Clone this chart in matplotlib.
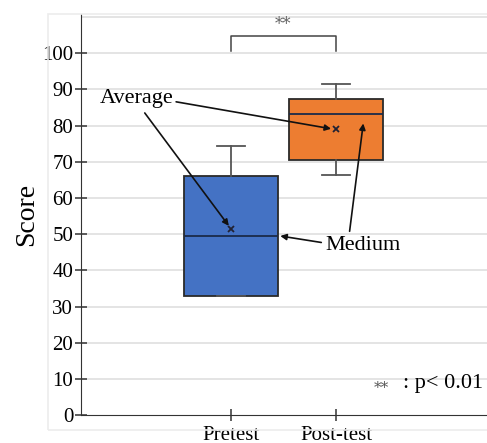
import matplotlib
matplotlib.use("Agg")
import matplotlib.pyplot as plt
from matplotlib.patches import Rectangle

plt.rcParams['font.family'] = ['Liberation Serif', 'DejaVu Serif']

groups = ['Pretest', 'Post-test']
q1 = [33, 70.5]
med = [49.5, 83.3]
q3 = [66.2, 87.4]
whislo = [33, 66.3]
whishi = [74.5, 91.6]
means = [51.5, 79]
colors = ['#4472C4', '#ED7D31']
yticks = list(range(0, 101, 10))

fig = plt.figure(figsize=(4.87, 4.43), dpi=100)
ax = fig.add_axes([0.166, 0.063, 0.834, 0.905])

# faint chart frame on the left
fig.patches.append(Rectangle((0.098, 0.03), 0.95, 0.938, transform=fig.transFigure,
                             fill=False, edgecolor='#ececec', lw=1.2, zorder=0))

pos = [1, 2]
stats = []
for i, g in enumerate(groups):
    stats.append(dict(label=g, q1=q1[i], med=med[i], q3=q3[i],
                      whislo=whislo[i], whishi=whishi[i], mean=means[i], fliers=[]))

bp = ax.bxp(stats, positions=pos, widths=0.9, patch_artist=True, showmeans=True,
            medianprops=dict(color='#1a2a4a', lw=1.3),
            whiskerprops=dict(color='#555555', lw=1.3),
            capprops=dict(color='#555555', lw=1.3),
            capwidths=0.27,
            meanprops=dict(marker='x', markeredgecolor='#222233', markersize=5, mew=1.3),
            boxprops=dict(lw=1.3))
for patch, c in zip(bp['boxes'], colors):
    patch.set_facecolor(c)
    patch.set_edgecolor('#2a2a2a')

ax.set_xlim(1 - 150 / 105, 2 + 151 / 105)
ax.set_ylim(0, 110.8)
ax.set_yticks(yticks)
ax.set_xticks(pos)
ax.set_xticklabels(groups)
for y in yticks[1:] + [110]:
    ax.axhline(y, color='#e4e4e4', lw=1.4, zorder=0)

for s in ['top', 'right']:
    ax.spines[s].set_visible(False)
ax.spines['left'].set_color('#333333')
ax.spines['bottom'].set_color('#333333')
ax.tick_params(axis='both', direction='inout', length=9, width=1.1, color='#333333',
               labelsize=15, pad=1)
ax.tick_params(axis='x', pad=3)
ax.set_ylabel('Score', fontsize=20, labelpad=2)

# significance bracket
ax.plot([1, 1, 2, 2], [100.6, 104.8, 104.8, 100.6], color='#444444', lw=1.1)
ax.text(1.5, 105.6, '**', ha='center', va='bottom', fontsize=12, color='#666666',
        family='DejaVu Serif')

# annotations
arr = dict(arrowstyle='-|>', color='#111111', lw=1.2, mutation_scale=9)
ax.annotate('Average', xy=(2 - 0.02, means[1]), xytext=(-0.25, 87.5), fontsize=16,
            ha='left', va='center', arrowprops=dict(arr, shrinkA=0, shrinkB=2,
            relpos=(1, 0.35)))
ax.annotate('', xy=(1 - 0.02, means[0] + 0.8), xytext=(0.18, 83.5),
            arrowprops=dict(arr, shrinkA=0, shrinkB=0))
ax.annotate('Medium', xy=(1 + 0.47, med[0]), xytext=(1.9, 47), fontsize=16,
            ha='left', va='center', arrowprops=dict(arr, shrinkA=1, shrinkB=0,
            relpos=(0, 0.6)))
ax.annotate('', xy=(2.26, 80.6), xytext=(2.13, 50.8),
            arrowprops=dict(arr, shrinkA=0, shrinkB=0))

ax.text(2.36, 7.6, '**', fontsize=11, color='#555555', ha='left', va='center',
        family='DejaVu Serif')
ax.text(2.64, 8.6, ': p< 0.01', fontsize=16, ha='left', va='center')

fig.savefig('out.png', dpi=100)
